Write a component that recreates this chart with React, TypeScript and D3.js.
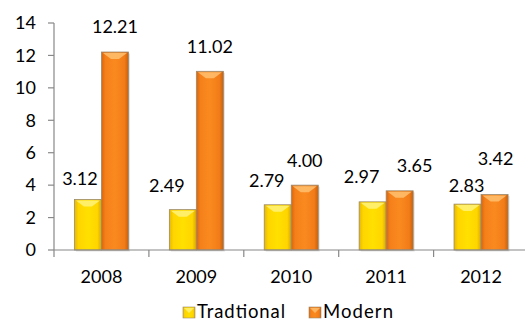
import React from "react";
import * as d3 from "d3";

const years = ["2008", "2009", "2010", "2011", "2012"];
const traditional = [3.12, 2.49, 2.79, 2.97, 2.83];
const modern = [12.21, 11.02, 4.0, 3.65, 3.42];
const yTicks = [0, 2, 4, 6, 8, 10, 12, 14];
const seriesNames = ["Tradtional", "Modern"];

// label placement offsets (layout, not data)
const tradLabelDx = [-8, -16, -11, -11, -1];
const tradLabelDy = [14, 18, 18, 19, 12];
const modLabelDx = [0, 0, 0, 15, 1];
const modLabelDy = [19, 18, 18, 19, 30];

const W = 525;
const H = 323;
const FONT = "Lato, 'Open Sans', sans-serif";

export default function App() {
  const x = d3.scaleBand<string>().domain(years).range([54, 528.5]).padding(0);
  const inner = d3
    .scaleBand<string>()
    .domain(["T", "M"])
    .range([0, x.bandwidth()])
    .paddingInner(0)
    .paddingOuter(0.757);
  const y = d3.scaleLinear().domain([0, 14]).range([250, 23]);
  const bw = inner.bandwidth();

  const bar = (key: string, v: number, i: number, fill: string, bevel: string) => {
    const x0 = (x(years[i]) as number) + (inner(key) as number);
    const top = y(v);
    const h = y(0) - top;
    const cx = x0 + bw / 2;
    return (
      <g key={key + i}>
        <rect x={x0 + 1.5} y={top + 1.5} width={bw} height={h} fill="#000" opacity={0.12} />
        <rect x={x0} y={top} width={bw} height={h} fill={`url(#${fill})`} stroke="#9a8a70" strokeWidth={0.8} />
        <path
          d={`M${x0 + 1.5},${top + 1} L${x0 + bw - 1.5},${top + 1} L${cx + 4},${top + 7} L${cx - 4},${top + 7} Z`}
          fill={bevel}
          opacity={0.85}
        />
      </g>
    );
  };

  return (
    <svg width={W} height={H} style={{ position: "absolute", left: 0, top: 0, background: "#fff" }}>
      <defs>
        <linearGradient id="gY" x1="0" x2="1" y1="0" y2="0">
          <stop offset="0" stopColor="#e6b800" />
          <stop offset="0.15" stopColor="#ffd500" />
          <stop offset="0.5" stopColor="#ffe000" />
          <stop offset="0.85" stopColor="#ffd500" />
          <stop offset="1" stopColor="#d9a800" />
        </linearGradient>
        <linearGradient id="gO" x1="0" x2="1" y1="0" y2="0">
          <stop offset="0" stopColor="#d9650d" />
          <stop offset="0.15" stopColor="#f5801a" />
          <stop offset="0.5" stopColor="#fa8a20" />
          <stop offset="0.85" stopColor="#f27c18" />
          <stop offset="1" stopColor="#c9600c" />
        </linearGradient>
      </defs>

      {/* y axis */}
      <line x1={54} x2={54} y1={y(14)} y2={y(0)} stroke="#888" strokeWidth={1.2} />
      {yTicks.map((t) => (
        <g key={t}>
          <line x1={48} x2={54} y1={y(t)} y2={y(t)} stroke="#888" strokeWidth={1.2} />
          <text x={36} y={y(t)} dy="0.35em" textAnchor="end" fontFamily={FONT} fontSize={18} fill="#000">
            {t}
          </text>
        </g>
      ))}

      {/* bars */}
      {years.map((yr, i) => (
        <g key={yr}>
          {bar("T", traditional[i], i, "gY", "#fff27a")}
          {bar("M", modern[i], i, "gO", "#ffc070")}
        </g>
      ))}

      {/* x axis */}
      <line x1={54} x2={W} y1={y(0)} y2={y(0)} stroke="#888" strokeWidth={1.2} />
      {years.map((yr) => (
        <line key={yr} x1={x(yr)} x2={x(yr)} y1={y(0)} y2={y(0) + 7} stroke="#888" strokeWidth={1.2} />
      ))}
      {years.map((yr) => (
        <text
          key={yr}
          x={(x(yr) as number) + x.bandwidth() / 2}
          y={283}
          textAnchor="middle"
          fontFamily={FONT}
          fontSize={18}
          fill="#000"
        >
          {yr}
        </text>
      ))}

      {/* value labels */}
      {years.map((yr, i) => {
        const tx = (x(yr) as number) + (inner("T") as number) + bw / 2;
        const mx = (x(yr) as number) + (inner("M") as number) + bw / 2;
        return (
          <g key={yr}>
            <text
              x={tx + tradLabelDx[i]}
              y={y(traditional[i]) - tradLabelDy[i]}
              textAnchor="middle"
              fontFamily={FONT}
              fontSize={18}
              fill="#000"
            >
              {traditional[i].toFixed(2)}
            </text>
            <text
              x={mx + modLabelDx[i]}
              y={y(modern[i]) - modLabelDy[i]}
              textAnchor="middle"
              fontFamily={FONT}
              fontSize={18}
              fill="#000"
            >
              {modern[i].toFixed(2)}
            </text>
          </g>
        );
      })}

      {/* legend */}
      {seriesNames.map((n, i) => {
        const lx = i === 0 ? 183 : 309;
        const tl = i === 0 ? 88 : 70;
        return (
          <g key={n}>
            <rect x={lx} y={307} width={12} height={11} fill={`url(#${i === 0 ? "gY" : "gO"})`} stroke="#9a8a70" strokeWidth={0.6} />
            <path d={`M${lx + 1},${308} L${lx + 11},${308} L${lx + 6},${313} Z`} fill={i === 0 ? "#fff27a" : "#ffc070"} opacity={0.8} />
            <text x={lx + 14} y={318} fontFamily={FONT} fontSize={18.5} fill="#000" textLength={tl} lengthAdjust="spacing">
              {n}
            </text>
          </g>
        );
      })}
    </svg>
  );
}
